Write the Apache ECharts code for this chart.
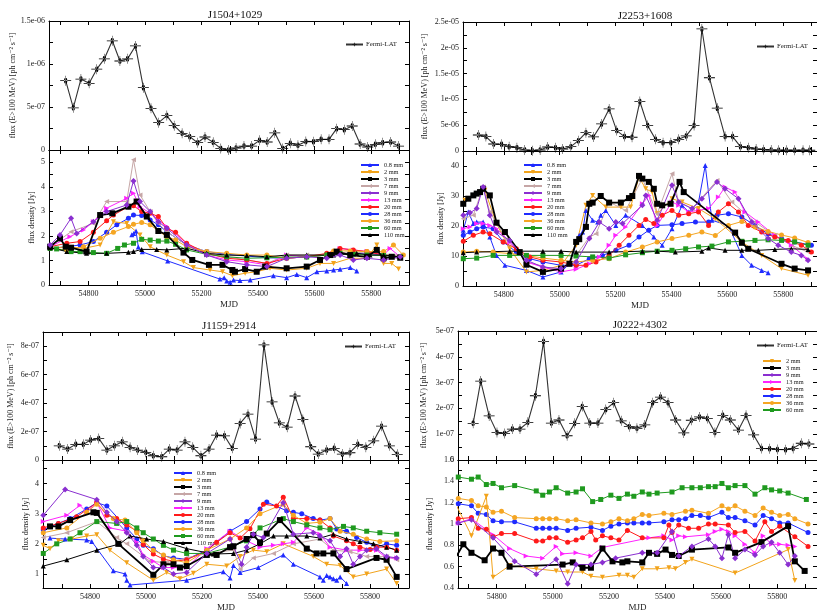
<!DOCTYPE html>
<html><head><meta charset="utf-8">
<script src="https://cdn.jsdelivr.net/npm/echarts@6/dist/echarts.min.js"></script>
<style>html,body{margin:0;padding:0;background:#fff}#c{width:817px;height:613px}</style>
</head><body><div id="c"></div>
<script>
// ---------------- DATA ----------------
const titles = ['J1504+1029','J2253+1608','J1159+2914','J0222+4302'];
const bands = ['0.8 mm','2 mm','3 mm','7 mm','9 mm','13 mm','20 mm','28 mm','36 mm','60 mm','110 mm'];
const bandsD = ['2 mm','3 mm','9 mm','13 mm','20 mm','28 mm','36 mm','60 mm'];
const xLabels = [54800,55000,55200,55400,55600,55800];

// Panel A: J1504+1029
const fermiA = [[54719,8.06e-7],[54746,4.9e-7],[54773,8.25e-7],[54802,7.75e-7],[54829,9.4e-7],[54856,1.06e-6],[54884,1.27e-6],[54911,1.035e-6],[54938,1.06e-6],[54966,1.21e-6],[54994,7.25e-7],[55021,4.85e-7],[55048,3.18e-7],[55077,4.0e-7],[55103,2.83e-7],[55131,1.94e-7],[55158,1.55e-7],[55186,8.5e-8],[55212,1.51e-7],[55241,8.9e-8],[55268,1.6e-8],[55295,0],[55322,2.3e-8],[55350,4.6e-8],[55377,4.6e-8],[55405,1.12e-7],[55432,9.3e-8],[55459,2.0e-7],[55487,1.6e-8],[55514,7.8e-8],[55541,5.4e-8],[55569,1.0e-7],[55596,9.7e-8],[55623,1.24e-7],[55651,1.24e-7],[55678,2.48e-7],[55705,2.36e-7],[55733,2.79e-7],[55761,7.0e-8],[55788,3.5e-8],[55815,6.6e-8],[55841,8.5e-8],[55869,9.3e-8],[55897,4.6e-8]];
const A_08 = [[54953,2.05],[54960,2.1],[54968,2.2],[54976,1.55],[54990,1.35],[55080,0.98],[55265,0.24],[55280,0.3],[55289,0.16],[55301,0.11],[55313,0.2],[55336,0.18],[55372,0.2],[55454,0.38],[55501,0.3],[55537,0.43],[55572,0.3],[55608,0.54],[55643,0.57],[55667,0.61],[55690,0.64],[55726,0.71],[55749,0.57]];
const A_2 = [[54664,1.49],[54723,1.56],[54782,1.49],[54841,1.63],[54888,2.58],[54935,2.51],[54982,2.04],[55018,1.56],[55077,1.22],[55136,0.95],[55171,0.71],[55230,0.61],[55274,0.54],[55309,0.38],[55354,0.48],[55395,0.54],[55442,0.68],[55501,0.61],[55572,0.68],[55619,0.88],[55667,0.88],[55726,1.09],[55785,1.09],[55820,1.63],[55844,0.88],[55873,0.88],[55897,0.65]];
const A_3 = [[54664,1.56],[54699,1.9],[54719,1.56],[54738,1.52],[54793,1.36],[54841,2.85],[54884,2.92],[54941,3.19],[54970,3.4],[55006,2.79],[55047,2.2],[55077,2.04],[55136,1.32],[55167,1.02],[55226,0.82],[55274,0.82],[55309,0.61],[55318,0.54],[55354,0.65],[55395,0.54],[55425,0.75],[55501,0.68],[55572,0.75],[55619,1.02],[55655,1.22],[55678,1.36],[55726,1.22],[55785,1.15],[55820,1.43],[55844,1.09],[55873,1.15],[55903,1.11]];
const A_7 = [[54664,1.56],[54738,2.17],[54817,2.51],[54864,3.4],[54935,3.4],[54959,5.1],[54982,3.67],[55018,2.99],[55047,2.51],[55077,2.17],[55147,1.63],[55218,1.36],[55289,1.15],[55360,1.02],[55431,0.88],[55501,1.22],[55572,1.22],[55643,1.22],[55726,1.36],[55785,1.29],[55903,1.22]];
const A_9 = [[54664,1.63],[54699,2.04],[54738,2.72],[54758,2.1],[54817,2.58],[54864,2.99],[54935,3.26],[54959,4.24],[54982,3.4],[55018,2.99],[55047,2.58],[55077,2.31],[55147,1.63],[55218,1.22],[55289,0.95],[55360,0.82],[55431,0.75],[55501,1.09],[55572,1.15],[55643,1.09],[55690,1.22],[55737,1.02],[55785,1.09],[55844,1.02],[55903,1.15]];
const A_13 = [[54664,1.56],[54734,1.97],[54782,2.24],[54817,2.58],[54864,3.13],[54935,3.53],[54959,3.74],[54982,3.19],[55018,2.92],[55047,2.65],[55077,2.38],[55147,1.7],[55218,1.22],[55289,1.02],[55360,0.95],[55431,0.82],[55501,1.22],[55572,1.15],[55643,1.22],[55690,1.49],[55737,1.43],[55785,1.36],[55844,1.22],[55867,1.49],[55903,1.15]];
const A_20 = [[54664,1.56],[54723,1.7],[54770,1.77],[54817,2.15],[54864,2.62],[54888,2.85],[54941,3.19],[54959,3.23],[54988,2.99],[55018,2.92],[55047,2.79],[55077,2.31],[55108,2.15],[55147,1.7],[55218,1.29],[55289,1.09],[55360,1.02],[55431,0.88],[55501,1.09],[55572,1.15],[55643,1.29],[55690,1.49],[55737,1.43],[55785,1.36],[55844,1.22],[55903,1.15]];
const A_28 = [[54664,1.49],[54723,1.56],[54770,1.63],[54817,1.77],[54864,2.15],[54900,2.45],[54941,2.72],[54959,2.85],[54988,2.83],[55018,2.65],[55047,2.45],[55077,2.17],[55147,1.63],[55218,1.36],[55289,1.25],[55360,1.18],[55431,1.11],[55501,1.09],[55572,1.15],[55643,1.22],[55726,1.29],[55785,1.29],[55844,1.22],[55903,1.15]];
const A_36 = [[54664,1.49],[54723,1.43],[54782,1.56],[54841,1.9],[54888,2.15],[54941,2.38],[54959,2.47],[54988,2.55],[55018,2.45],[55047,2.2],[55077,1.97],[55108,1.83],[55147,1.56],[55218,1.36],[55289,1.29],[55360,1.22],[55431,1.22],[55501,1.09],[55572,1.15],[55643,1.22],[55667,1.39],[55726,1.39],[55785,1.36],[55844,1.36],[55879,1.63],[55914,1.22]];
const A_60 = [[54664,1.49],[54687,1.47],[54738,1.36],[54770,1.36],[54817,1.32],[54864,1.29],[54903,1.49],[54927,1.63],[54959,1.7],[54988,1.86],[55018,1.83],[55047,1.79],[55077,1.79],[55108,1.66],[55147,1.43],[55218,1.25],[55289,1.15],[55360,1.09],[55431,1.11],[55501,1.14],[55572,1.14],[55643,1.22],[55690,1.29],[55737,1.25],[55785,1.22],[55844,1.2],[55903,1.15]];
const A_110 = [[54664,1.52],[54723,1.36],[54793,1.29],[54864,1.29],[54941,1.33],[54959,1.36],[54988,1.45],[55041,1.45],[55077,1.43],[55147,1.5],[55218,1.29],[55289,1.22],[55360,1.2],[55431,1.15],[55501,1.22],[55572,1.22],[55667,1.22],[55749,1.29],[55796,1.22],[55844,1.22],[55903,1.15]];

// Panel B: J2253+1608
const fermiB = [[54709,3.1e-6],[54736,2.8e-6],[54764,1.36e-6],[54792,1.3e-6],[54819,8.4e-7],[54847,6.5e-7],[54875,1.9e-7],[54902,6e-8],[54930,1.9e-7],[54957,7.8e-7],[54985,6.5e-7],[55011,3.9e-7],[55040,8.4e-7],[55067,2.0e-6],[55094,3.56e-6],[55121,2.72e-6],[55150,5.25e-6],[55177,8.16e-6],[55204,3.95e-6],[55232,2.79e-6],[55259,2.66e-6],[55287,9.6e-6],[55315,4.92e-6],[55343,2.27e-6],[55370,1.62e-6],[55398,1.62e-6],[55426,2.27e-6],[55453,2.92e-6],[55481,4.92e-6],[55509,2.365e-5],[55536,1.42e-5],[55564,8.3e-6],[55592,2.79e-6],[55619,2.79e-6],[55647,8.4e-7],[55675,6.5e-7],[55703,3.9e-7],[55730,2.6e-7],[55757,1.9e-7],[55784,1.5e-7],[55812,1.5e-7],[55841,1.5e-7],[55871,1.5e-7],[55895,1.5e-7]];
const B_08 = [[54655,18.6],[54673,24.7],[54691,20.8],[54703,21.3],[54726,21.3],[54750,16.3],[54774,10.2],[54804,6.9],[54881,5.2],[54940,3],[55005,4.7],[55035,7.4],[55070,16.9],[55082,18],[55094,25.2],[55118,21.9],[55136,21.3],[55147,23.6],[55165,25.2],[55201,20.2],[55236,23.6],[55296,20.2],[55337,16.3],[55367,13.6],[55402,19.1],[55438,26.9],[55462,24.7],[55497,28],[55521,40.2],[55545,21.9],[55604,20.2],[55652,10.2],[55687,6.9],[55723,5.2],[55746,4.4]];
const B_2 = [[54661,28.6],[54732,31.9],[54774,20.8],[54821,12.4],[54881,4.7],[54940,5.2],[55005,6.9],[55059,13.6],[55094,26.9],[55118,30.2],[55165,26.3],[55219,26.3],[55254,26.3],[55284,36.3],[55308,32.4],[55331,31.3],[55349,24.1],[55402,29.1],[55438,28],[55497,25.8],[55557,22.4],[55652,14.7],[55723,10.2],[55794,5.8],[55889,3.6]];
const B_3 = [[54655,27.4],[54673,29.1],[54691,30.2],[54703,30.8],[54715,31.3],[54726,32.4],[54750,30.2],[54774,21.1],[54804,18],[54857,11.3],[54881,7.1],[54940,4.7],[55005,5.8],[55035,7.4],[55059,14.7],[55070,15.6],[55094,19.7],[55106,27.4],[55118,27.8],[55147,30],[55177,27.8],[55219,27.8],[55248,29.3],[55260,30],[55284,36.7],[55296,35.8],[55319,34.7],[55337,32.4],[55349,27.4],[55367,26.9],[55397,27.4],[55429,34.7],[55444,31.3],[55628,17.8],[55652,14.4],[55675,12.4],[55794,7.4],[55841,5.8],[55889,5.2]];
const B_7 = [[54655,22.4],[54691,23.6],[54726,33],[54750,24.7],[54809,15.6],[54881,8],[54999,5.2],[55059,10.2],[55106,16.3],[55130,17.4],[55177,28],[55236,25.2],[55296,35.8],[55349,24.1],[55402,37.4],[55426,28],[55474,25.8],[55563,35.2],[55616,28],[55699,21.3],[55770,16.9],[55829,13.6],[55889,11.3]];
const B_9 = [[54655,23.6],[54679,24.4],[54703,25.8],[54726,33],[54750,23.6],[54774,18],[54821,15.2],[54881,8.6],[54940,6.3],[55005,5.8],[55059,8],[55106,15.8],[55142,21.3],[55177,19.1],[55201,21.3],[55225,20.8],[55296,26.9],[55308,30.2],[55349,21.9],[55402,33.6],[55426,28],[55474,25.8],[55509,29.1],[55563,34.7],[55592,32.4],[55640,29.1],[55687,21.3],[55746,15.8],[55782,13.6],[55829,11.3],[55865,10.2],[55889,8.6]];
const B_13 = [[54655,19.1],[54679,19.7],[54703,20.8],[54726,20.8],[54750,20.2],[54774,19.1],[54821,14.7],[54881,8],[54940,6.3],[55005,4.7],[55059,5.6],[55106,7.4],[55142,9.7],[55177,13.6],[55201,16.9],[55236,19.7],[55296,27.4],[55319,30.2],[55349,20.2],[55402,28],[55426,26.9],[55462,24.7],[55497,25.2],[55533,25.8],[55568,29.7],[55592,33],[55628,31.3],[55663,24.7],[55711,21.3],[55770,16.9],[55829,13.6],[55889,8.9]];
const B_20 = [[54655,14.9],[54691,16.9],[54726,18],[54750,17.4],[54798,14.7],[54845,12.4],[54893,9.7],[54940,8.6],[55005,8],[55059,6.9],[55094,6.9],[55130,8],[55177,10.2],[55213,13.6],[55248,16.9],[55284,20.2],[55308,22.2],[55337,20.8],[55367,23.6],[55402,25.2],[55426,23.6],[55462,24.1],[55497,24.7],[55533,20.2],[55568,24.7],[55604,27.4],[55640,24.7],[55675,20.2],[55723,18],[55770,16.3],[55818,15.2],[55865,13.6],[55901,11.3]];
const B_28 = [[54655,16.9],[54679,18],[54703,19.1],[54726,19.7],[54762,19.1],[54798,14.7],[54845,11.3],[54893,9.1],[54940,8],[55005,6.9],[55059,6.9],[55106,9.1],[55153,10.2],[55201,11.9],[55248,13.6],[55284,16.3],[55319,18.6],[55349,20.2],[55402,20.4],[55438,20.8],[55486,21.3],[55533,21.3],[55563,23.6],[55604,24.1],[55652,23],[55699,20.2],[55746,17.4],[55794,15.8],[55841,14.7],[55901,13.6]];
const B_36 = [[54655,11.3],[54703,11.6],[54762,11.3],[54821,10.8],[54881,10.2],[54940,9.3],[55005,8.6],[55059,8],[55118,8.6],[55177,9.1],[55236,11.3],[55296,13],[55349,14.7],[55402,15.8],[55462,16.9],[55509,18],[55557,16.8],[55604,20.2],[55652,21.5],[55699,19.7],[55746,18.2],[55794,17],[55841,16],[55889,14.5]];
const B_60 = [[54655,9.1],[54703,9.3],[54762,10.2],[54821,10.2],[54881,10.2],[54940,10.2],[55005,10.2],[55059,10],[55118,9.7],[55177,9.3],[55236,10.4],[55296,11.1],[55349,11.6],[55402,11.9],[55451,12.4],[55497,13],[55545,13.3],[55604,14.7],[55652,14.9],[55699,15.2],[55746,15.4],[55794,15.2],[55841,14.7],[55889,13.6]];
const B_110 = [[54655,11.1],[54703,11.3],[54821,11.6],[54940,11.6],[55005,11.6],[55059,11.3],[55177,11.3],[55296,11.6],[55349,11.6],[55414,11.3],[55509,11.6],[55533,12.7],[55592,11.9],[55652,11.9],[55711,11.9],[55770,12.2],[55829,12.4],[55889,12.2]];

// Panel C: J1159+2914
const fermiC = [[54690,1.0e-7],[54720,7.7e-8],[54749,1.1e-7],[54776,1.1e-7],[54802,1.4e-7],[54831,1.52e-7],[54860,7.0e-8],[54887,1.0e-7],[54915,1.28e-7],[54943,8.9e-8],[54970,7.0e-8],[54999,5.4e-8],[55026,3.0e-8],[55056,2.3e-8],[55083,7.7e-8],[55111,7.0e-8],[55139,1.28e-7],[55167,8.9e-8],[55196,3.0e-8],[55225,7.7e-8],[55252,1.75e-7],[55280,1.7e-7],[55308,8.2e-8],[55336,2.57e-7],[55364,3.22e-7],[55391,1.47e-7],[55421,8.09e-7],[55450,4.08e-7],[55476,2.61e-7],[55504,2.31e-7],[55532,4.5e-7],[55560,2.85e-7],[55588,9.3e-8],[55615,4.2e-8],[55645,7.0e-8],[55672,8.2e-8],[55701,4.2e-8],[55728,5.1e-8],[55756,1.1e-7],[55785,8.9e-8],[55813,1.35e-7],[55841,2.38e-7],[55869,1.0e-7],[55897,4.0e-8]];
const C_08 = [[54657,2.19],[54711,2.16],[54788,2.13],[54806,2.08],[54883,1.1],[54925,1.0],[54931,0.79],[54943,0.63],[55145,0.79],[55276,1.07],[55300,0.86],[55312,1.28],[55336,1.05],[55401,1.21],[55490,1.63],[55526,1.32],[55621,0.9],[55633,0.79],[55645,0.95],[55657,0.9],[55669,0.84],[55681,0.79],[55693,0.9],[55716,0.68]];
const C_2 = [[54633,1.95],[54657,1.84],[54687,2.1],[54735,2.16],[54788,2.26],[54824,2.3],[54871,1.79],[54931,1.37],[55026,0.79],[55074,1.05],[55121,0.84],[55169,1.02],[55217,1.32],[55288,1.26],[55336,1.58],[55383,1.79],[55431,1.74],[55490,2.0],[55597,1.58],[55645,1.32],[55693,1.28],[55740,0.9],[55788,1.0],[55859,1.16],[55895,0.68]];
const C_3 = [[54657,2.58],[54687,2.58],[54729,2.79],[54812,3.05],[54824,3.03],[54901,2.0],[55026,0.97],[55062,1.32],[55098,1.32],[55121,1.21],[55145,1.26],[55217,1.63],[55252,1.63],[55300,1.89],[55312,1.92],[55359,2.16],[55383,2.29],[55407,2.05],[55431,2.34],[55478,2.79],[55574,1.84],[55609,1.68],[55633,1.68],[55669,1.68],[55716,1.16],[55823,1.53],[55859,1.47],[55895,0.9]];
const C_7 = [[54633,2.21],[54717,2.37],[54824,2.74],[54895,2.21],[54931,2.0],[55014,1.42],[55074,1.37],[55145,1.53],[55217,1.68],[55312,1.79],[55336,1.16],[55383,1.53],[55455,1.68],[55526,2.0],[55621,2.16],[55669,1.79],[55728,1.74],[55788,1.58],[55859,1.58],[55895,1.47]];
const C_9 = [[54633,2.95],[54711,3.81],[54824,3.47],[54860,3.05],[54895,2.74],[54931,2.37],[54967,1.95],[54990,1.58],[55026,1.21],[55062,1.21],[55098,1.0],[55145,1.05],[55217,1.68],[55300,2.16],[55341,1.32],[55359,1.89],[55383,2.32],[55419,2.21],[55490,3.37],[55526,2.32],[55597,2.37],[55621,2.26],[55657,2.1],[55693,1.58],[55716,1.84],[55740,1.32],[55764,1.58],[55788,1.79],[55823,1.84],[55859,1.58],[55895,1.53]];
const C_13 = [[54633,2.74],[54717,2.95],[54764,3.28],[54788,3.05],[54824,3.37],[54871,2.53],[54931,2.42],[54967,2.05],[54990,1.63],[55026,1.42],[55062,1.21],[55098,1.21],[55145,1.21],[55217,1.84],[55300,2.42],[55359,2.1],[55407,1.89],[55455,1.95],[55490,2.0],[55526,2.05],[55574,2.53],[55621,2.32],[55657,1.89],[55716,1.79],[55764,1.79],[55823,1.79],[55859,1.53],[55895,1.53]];
const C_20 = [[54633,2.53],[54687,2.68],[54752,2.9],[54824,3.37],[54860,2.95],[54895,2.84],[54931,2.63],[54967,2.42],[54990,1.98],[55026,1.66],[55062,1.49],[55098,1.42],[55145,1.47],[55217,1.77],[55252,2.05],[55300,2.37],[55336,2.19],[55371,2.5],[55419,3.32],[55466,3.26],[55490,3.55],[55526,2.84],[55574,2.84],[55621,2.79],[55657,2.53],[55669,2.26],[55716,2.1],[55740,2.0],[55764,1.89],[55800,1.81],[55823,1.89],[55859,1.89],[55895,1.79]];
const C_28 = [[54633,2.47],[54687,2.68],[54729,2.84],[54788,3.16],[54824,3.37],[54860,3.26],[54931,2.53],[54967,2.16],[54990,1.95],[55026,1.84],[55062,1.6],[55098,1.53],[55145,1.49],[55217,1.79],[55300,2.42],[55359,2.74],[55407,3.16],[55431,3.39],[55502,3.1],[55526,3.05],[55556,3.0],[55597,2.84],[55621,2.79],[55657,2.84],[55681,2.49],[55716,2.42],[55752,2.21],[55788,2.05],[55823,1.89],[55859,2.0],[55895,1.95]];
const C_36 = [[54633,2.37],[54717,2.53],[54788,3.05],[54824,3.32],[54883,2.84],[54925,2.79],[54967,2.37],[54990,2.1],[55026,1.79],[55062,1.63],[55098,1.47],[55145,1.37],[55217,1.79],[55300,2.16],[55359,2.53],[55407,3.0],[55490,3.32],[55526,2.95],[55574,2.68],[55621,2.72],[55657,2.84],[55693,2.42],[55740,2.32],[55788,2.16],[55835,2.08],[55895,2.1]];
const C_60 = [[54633,1.68],[54681,2.0],[54729,2.16],[54764,2.37],[54824,2.74],[54895,2.68],[54931,2.74],[54967,2.53],[54990,2.37],[55026,2.16],[55062,1.95],[55098,1.79],[55145,1.68],[55217,1.68],[55300,1.89],[55359,2.1],[55407,2.53],[55490,2.84],[55526,2.74],[55574,2.63],[55621,2.53],[55657,2.47],[55705,2.58],[55740,2.53],[55788,2.42],[55835,2.37],[55895,2.32]];
const C_110 = [[54633,1.26],[54717,1.47],[54824,1.79],[54907,2.0],[54943,2.26],[55002,2.16],[55062,2.08],[55145,1.84],[55240,1.66],[55312,1.68],[55359,1.79],[55407,2.0],[55455,2.26],[55502,2.26],[55574,2.26],[55621,2.19],[55669,2.32],[55716,2.16],[55764,2.08],[55812,2.0],[55859,1.89],[55895,1.79]];

// Panel D: J0222+4302
const fermiD = [[54716,1.42e-7],[54743,3.06e-7],[54773,1.71e-7],[54801,1.07e-7],[54828,1.03e-7],[54856,1.2e-7],[54883,1.2e-7],[54911,1.46e-7],[54938,2.49e-7],[54967,4.59e-7],[54995,1.43e-7],[55022,1.55e-7],[55051,9.4e-8],[55078,1.42e-7],[55105,2.07e-7],[55132,1.43e-7],[55161,1.43e-7],[55189,1.96e-7],[55217,2.22e-7],[55244,1.52e-7],[55273,1.29e-7],[55300,1.23e-7],[55328,1.36e-7],[55356,2.22e-7],[55384,2.44e-7],[55411,2.22e-7],[55438,1.55e-7],[55467,1.05e-7],[55494,1.54e-7],[55523,1.67e-7],[55551,1.61e-7],[55578,1.07e-7],[55606,1.73e-7],[55633,1.55e-7],[55662,1.16e-7],[55689,1.73e-7],[55716,9.7e-8],[55744,4.5e-8],[55773,4.4e-8],[55801,4.1e-8],[55830,4.0e-8],[55857,4.5e-8],[55886,6.5e-8],[55913,6.2e-8]];
const D_2 = [[54657,1.17],[54710,0.89],[54763,1.26],[54787,0.5],[54846,0.61],[54941,0.58],[55012,0.56],[55053,0.55],[55106,0.55],[55136,0.51],[55177,0.5],[55236,0.52],[55266,0.52],[55289,0.5],[55319,0.58],[55372,0.58],[55414,0.59],[55437,0.58],[55473,0.64],[55496,0.67],[55650,0.54],[55839,0.76],[55863,0.47]];
const D_3 = [[54657,0.7],[54681,0.81],[54710,0.73],[54757,0.66],[54787,0.77],[54817,0.73],[54846,0.6],[55035,0.62],[55071,0.64],[55106,0.59],[55136,0.59],[55177,0.77],[55213,0.65],[55248,0.64],[55266,0.65],[55319,0.64],[55343,0.73],[55372,0.72],[55402,0.76],[55425,0.71],[55449,0.7],[55496,0.76],[55626,0.78],[55650,0.73],[55744,0.83],[55839,0.98],[55863,0.65],[55898,0.56]];
const D_9 = [[54663,1.01],[54710,1.04],[54787,0.87],[54864,0.65],[54941,0.53],[55012,0.67],[55053,0.44],[55083,0.62],[55136,0.62],[55177,0.64],[55224,0.68],[55319,0.73],[55372,0.73],[55425,0.93],[55449,0.7],[55496,0.79],[55555,0.86],[55579,0.79],[55603,0.68],[55626,0.9],[55650,0.68],[55685,0.76],[55721,0.71],[55750,0.79],[55780,0.83],[55809,0.73],[55839,0.62],[55863,0.7]];
const D_13 = [[54663,1.01],[54710,1.05],[54787,0.9],[54846,0.77],[54905,0.7],[54964,0.68],[55012,0.79],[55035,0.72],[55083,0.73],[55136,0.7],[55177,0.78],[55343,0.87],[55396,0.89],[55425,0.85],[55449,0.89],[55473,0.88],[55555,0.9],[55579,0.93],[55603,0.95],[55626,0.93],[55650,0.89],[55685,0.81],[55721,0.73],[55750,0.89],[55780,0.81],[55809,0.81],[55839,0.8],[55863,0.79]];
const D_20 = [[54663,1.05],[54710,1.06],[54734,0.96],[54763,0.95],[54787,0.88],[54817,0.91],[54864,0.91],[54941,0.84],[54964,0.84],[54988,0.87],[55012,0.87],[55053,0.83],[55083,0.85],[55106,0.87],[55136,0.93],[55153,0.85],[55177,0.89],[55207,0.87],[55236,0.85],[55266,0.94],[55319,0.87],[55396,0.87],[55414,0.99],[55425,0.92],[55449,0.99],[55484,0.96],[55520,0.96],[55555,1.0],[55579,1.0],[55626,0.99],[55650,0.92],[55685,0.93],[55721,0.84],[55756,1.02],[55780,0.93],[55809,0.98],[55863,0.88],[55910,0.79]];
const D_28 = [[54663,1.19],[54710,1.17],[54734,1.1],[54763,1.09],[54787,1.03],[54817,1.02],[54864,1.02],[54941,0.96],[54964,0.96],[54988,0.96],[55012,0.96],[55053,0.94],[55083,0.96],[55136,0.97],[55177,0.94],[55207,0.98],[55236,1.0],[55266,1.01],[55289,1.01],[55319,1.01],[55343,1.01],[55396,1.02],[55425,1.04],[55449,1.04],[55473,1.05],[55496,1.08],[55526,1.08],[55555,1.06],[55603,1.11],[55626,1.06],[55650,1.06],[55685,1.03],[55721,0.99],[55750,1.08],[55780,1.05],[55809,1.01],[55839,1.01],[55910,0.92]];
const D_36 = [[54663,1.24],[54710,1.22],[54734,1.17],[54763,1.16],[54787,1.11],[54817,1.12],[54864,1.06],[54941,1.05],[54964,1.05],[54988,1.05],[55012,1.05],[55053,1.03],[55083,1.04],[55136,1.01],[55177,1.0],[55207,1.02],[55236,1.05],[55266,1.03],[55289,1.05],[55319,1.09],[55343,1.08],[55396,1.1],[55425,1.09],[55473,1.12],[55496,1.13],[55555,1.1],[55603,1.17],[55626,1.14],[55650,1.17],[55685,1.12],[55721,1.08],[55750,1.15],[55780,1.11],[55809,1.08],[55839,1.09],[55863,1.05],[55910,1.0]];
const D_60 = [[54663,1.44],[54710,1.42],[54734,1.44],[54763,1.37],[54787,1.38],[54817,1.34],[54864,1.36],[54941,1.31],[54964,1.27],[54988,1.3],[55012,1.34],[55053,1.29],[55083,1.3],[55106,1.33],[55142,1.21],[55171,1.23],[55207,1.27],[55236,1.24],[55266,1.28],[55289,1.26],[55319,1.3],[55343,1.28],[55372,1.29],[55425,1.3],[55461,1.34],[55496,1.34],[55526,1.34],[55555,1.35],[55579,1.35],[55603,1.38],[55626,1.34],[55650,1.36],[55685,1.36],[55721,1.28],[55756,1.34],[55780,1.32],[55809,1.31],[55839,1.29],[55904,1.23]];

// ---------------- STYLE / LAYOUT ----------------
const FONT = '"Liberation Serif","DejaVu Serif",serif';
const ST = {
  '0.8 mm': {c:'#1f2bff', s:'triangle', r:0, z:5, w:1},
  '2 mm':   {c:'#f2a31b', s:'triangle', r:180, z:5, w:1},
  '3 mm':   {c:'#000000', s:'rect', r:0, z:6, w:1.8},
  '7 mm':   {c:'#c6a6a6', s:'triangle', r:90, z:5, w:1},
  '9 mm':   {c:'#8a2fd0', s:'diamond', r:0, z:6, w:1},
  '13 mm':  {c:'#ff22ff', s:'triangle', r:-90, z:5, w:1},
  '20 mm':  {c:'#ff1a1a', s:'circle', r:0, z:5, w:1},
  '28 mm':  {c:'#1f2bff', s:'circle', r:0, z:4, w:1},
  '36 mm':  {c:'#f5a623', s:'circle', r:0, z:5, w:1},
  '60 mm':  {c:'#1f9a1f', s:'rect', r:0, z:5, w:1},
  '110 mm': {c:'#000000', s:'triangle', r:0, z:5, w:1}
};
const FERMI_SYM = 'path://M0,4.6H20V5.4H0Z M9.6,0H10.4V10H9.6Z M7,5A3,3 0 1 0 13,5A3,3 0 1 0 7,5Z';

function rng(a,b,st){const o=[];for(let v=a;v<=b+st*1e-6;v+=st)o.push(Number(v.toPrecision(10)));return o;}
function fmtE(v){ if (Math.abs(v)<1e-20) return '0'; const s=Number(v.toPrecision(3)).toExponential(); return s.replace(/e([+-])(\d+)$/,(m,sg,d)=>'e'+sg+(d.length<2?'0'+d:d)); }
function fmtN(v){ return String(Number(v.toPrecision(6))); }

const P = [
  {title:titles[0], left:49, width:360, tTop:21, mid:150, bot:285, xmin:54660, xmax:55934,
   fermi:fermiA, fmax:1.5e-6, fLab:rng(0,1.5e-6,5e-7), fTick:rng(0,1.5e-6,2.5e-7), fGap:31,
   ymin:0, ymax:5.5, yLab:rng(0,5,1), yTick:rng(0,5.5,0.5), yGap:13,
   series:{'0.8 mm':A_08,'2 mm':A_2,'3 mm':A_3,'7 mm':A_7,'9 mm':A_9,'13 mm':A_13,'20 mm':A_20,'28 mm':A_28,'36 mm':A_36,'60 mm':A_60,'110 mm':A_110},
   fLeg:[345,41], rLeg:[355,157], rNames:bands},
  {title:titles[1], left:463, width:356, tTop:22, mid:151, bot:286, xmin:54654, xmax:55921,
   fermi:fermiB, fmax:2.5e-5, fLab:rng(0,2.5e-5,5e-6), fTick:rng(0,2.5e-5,2.5e-6), fGap:34,
   ymin:0, ymax:45, yLab:rng(0,40,10), yTick:rng(0,45,5), yGap:18,
   series:{'0.8 mm':B_08,'2 mm':B_2,'3 mm':B_3,'7 mm':B_7,'9 mm':B_9,'13 mm':B_13,'20 mm':B_20,'28 mm':B_28,'36 mm':B_36,'60 mm':B_60,'110 mm':B_110},
   fLeg:[756,43], rLeg:[518,157], rNames:bands},
  {title:titles[2], left:43, width:366, tTop:332, mid:460, bot:595, xmin:54632, xmax:55939,
   fermi:fermiC, fmax:9e-7, fLab:rng(0,8e-7,2e-7), fTick:rng(0,9e-7,1e-7), fGap:28,
   ymin:0.53, ymax:4.79, yLab:rng(1,4,1), yTick:rng(1,4.5,0.5), yGap:13,
   series:{'0.8 mm':C_08,'2 mm':C_2,'3 mm':C_3,'7 mm':C_7,'9 mm':C_9,'13 mm':C_13,'20 mm':C_20,'28 mm':C_28,'36 mm':C_36,'60 mm':C_60,'110 mm':C_110},
   fLeg:[344,343], rLeg:[168,465], rNames:bands},
  {title:titles[3], left:458, width:361, tTop:331, mid:460, bot:595, xmin:54662, xmax:55942,
   fermi:fermiD, fmax:5e-7, fLab:rng(0,5e-7,1e-7), fTick:rng(0,5e-7,5e-8), fGap:30,
   ymin:0.4, ymax:1.6, yLab:rng(0.4,1.6,0.2), yTick:rng(0.4,1.6,0.1), yGap:24,
   series:{'2 mm':D_2,'3 mm':D_3,'9 mm':D_9,'13 mm':D_13,'20 mm':D_20,'28 mm':D_28,'36 mm':D_36,'60 mm':D_60},
   fLeg:[756,342], rLeg:[757,353], rNames:bandsD}
];

const grid=[], xAxis=[], yAxis=[], series=[], legend=[], title=[];
const tickX = rng(54700,55900,100);
const labStyle = {fontFamily:FONT, fontSize:8, color:'#222'};
const lineSt = {color:'#000', width:1};

function addGrid(left, top, width, height, xmin, xmax, showXLab, xName, ymin, ymax, yLab, yTick, yFmt, yName, yGap){
  const g = grid.length;
  grid.push({left, top, width, height, containLabel:false});
  const xa = {type:'value', gridIndex:g, min:xmin, max:xmax, splitLine:{show:false},
    axisLine:{show:true, onZero:false, lineStyle:lineSt},
    axisTick:{show:true, inside:true, length:4, customValues:tickX, lineStyle:lineSt}};
  xAxis.push(Object.assign({}, xa, {position:'bottom',
    axisLabel:{show:showXLab, customValues:xLabels, margin:5, formatter:fmtN, ...labStyle},
    name:xName, nameLocation:'middle', nameGap:15, nameTextStyle:{fontFamily:FONT, fontSize:9, color:'#222'}}));
  xAxis.push(Object.assign({}, xa, {position:'top', axisLabel:{show:false}}));
  const ya = {type:'value', gridIndex:g, min:ymin, max:ymax, splitLine:{show:false},
    axisLine:{show:true, onZero:false, lineStyle:lineSt},
    axisTick:{show:true, inside:true, length:4, customValues:yTick, lineStyle:lineSt}};
  yAxis.push(Object.assign({}, ya, {position:'left',
    axisLabel:{show:true, customValues:yLab, margin:4, formatter:yFmt || fmtN, ...labStyle},
    name:yName, nameLocation:'middle', nameGap:yGap, nameRotate:90,
    nameTextStyle:{fontFamily:FONT, fontSize:8, color:'#222'}}));
  yAxis.push(Object.assign({}, ya, {position:'right', axisLabel:{show:false}}));
  return g;
}

P.forEach((p,i)=>{
  title.push({text:p.title, left:p.left + (i%2===0?181:177), top:p.tTop-16, textAlign:'center',
    textStyle:{fontFamily:FONT, fontSize:11, fontWeight:'normal', color:'#111'}});
  const gT = addGrid(p.left, p.tTop, p.width, p.mid-p.tTop, p.xmin, p.xmax, false, '', 0, p.fmax, p.fLab, p.fTick, fmtE,
    'flux (E>100 MeV) [ph cm\u207B\u00B2 s\u207B\u00B9]', p.fGap);
  const gB = addGrid(p.left, p.mid, p.width, p.bot-p.mid, p.xmin, p.xmax, true, 'MJD', p.ymin, p.ymax, p.yLab, p.yTick, null,
    'flux density [Jy]', p.yGap);
  series.push({type:'line', name:'Fermi-LAT', xAxisIndex:2*gT, yAxisIndex:2*gT, data:p.fermi,
    symbol:FERMI_SYM, symbolSize:[11,10], symbolKeepAspect:false, showAllSymbol:true,
    lineStyle:{color:'#333', width:1.1}, itemStyle:{color:'#000'}, color:'#000', animation:false});
  Object.keys(p.series).forEach(nm=>{
    const s = ST[nm];
    series.push({type:'line', name:nm, xAxisIndex:2*gB, yAxisIndex:2*gB, data:p.series[nm],
      symbol:s.s, symbolSize:(nm==='3 mm'?6:(s.s==='diamond'?6:5)), symbolRotate:s.r, showAllSymbol:true,
      lineStyle:{color:s.c, width:s.w}, itemStyle:{color:s.c}, color:s.c, z:s.z, clip:true, animation:false});
  });
  legend.push({data:['Fermi-LAT'], left:p.fLeg[0], top:p.fLeg[1], orient:'vertical', itemWidth:17, itemHeight:6,
    padding:0, textStyle:{fontFamily:FONT, fontSize:6.8, color:'#222', padding:[0,0,0,-2]}, selectedMode:false});
  legend.push({data:p.rNames, left:p.rLeg[0], top:p.rLeg[1], orient:'vertical', itemWidth:18, itemHeight:5, itemGap:1,
    textStyle:{fontFamily:FONT, fontSize:6.3, color:'#222'}, selectedMode:false});
});

const chart = echarts.init(document.getElementById('c'), null, {renderer:'canvas'});
chart.setOption({backgroundColor:'#fff', animation:false, title, grid, xAxis, yAxis, series, legend});
</script>
</body></html>
